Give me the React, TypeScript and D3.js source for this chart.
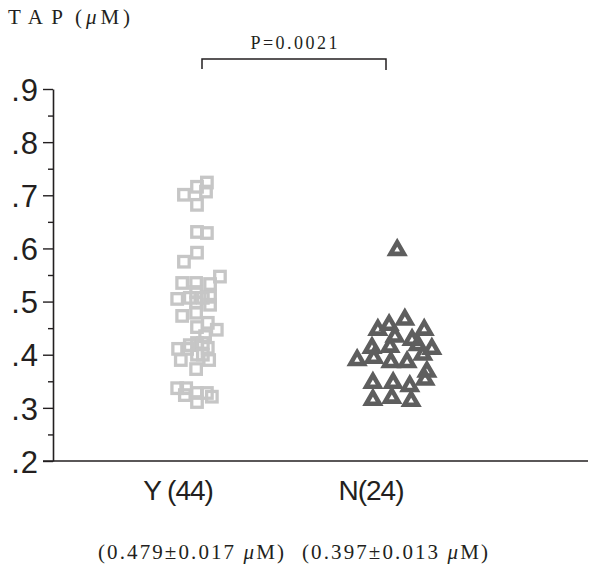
import { useEffect, useRef } from "react";
import * as d3 from "d3";

// groups
const categories = ["Y", "N"];
const categoryLabels = ["Y (44)", "N(24)"];
const summaryLabels = ["(0.479±0.017 μM)", "(0.397±0.013 μM)"];

// TAP values (μM), group Y (squares)
const yValues = [
  0.724, 0.707, 0.716, 0.701, 0.682, 0.631, 0.629, 0.592, 0.575, 0.547, 0.535,
  0.535, 0.533, 0.505, 0.507, 0.518, 0.498, 0.509, 0.494, 0.473, 0.479, 0.46,
  0.452, 0.447, 0.435, 0.411, 0.411, 0.422, 0.413, 0.39, 0.4, 0.39, 0.373,
  0.337, 0.337, 0.328, 0.328, 0.321, 0.311, 0.507, 0.418, 0.422, 0.324, 0.4,
];
// horizontal spread of group Y points, -1..1
const yJitter = [
  0.22, 0.2, 0, -0.29, 0, 0, 0.22, 0, -0.29, 0.51, -0.33, -0.02, 0.29, -0.44,
  -0.16, -0.02, -0.02, 0.29, 0.29, -0.33, -0.02, 0.24, 0, 0.44, 0.18, -0.42,
  -0.22, 0, 0.24, -0.36, 0, 0.27, -0.02, -0.44, -0.24, 0, 0.22, 0.33, 0, 0.13,
  -0.16, 0.13, -0.27, 0.13,
];

// TAP values (μM), group N (triangles)
const nValues = [
  0.597, 0.447, 0.456, 0.466, 0.447, 0.434, 0.428, 0.413, 0.415, 0.418, 0.411,
  0.39, 0.394, 0.386, 0.386, 0.368, 0.347, 0.347, 0.341, 0.353, 0.315, 0.319,
  0.313, 0.4,
];
const nJitter = [
  0.16, -0.27, -0.02, 0.33, 0.76, 0.11, 0.49, -0.4, 0, 0.62, 0.93, -0.73,
  -0.36, 0.02, 0.38, 0.82, -0.38, 0.07, 0.44, 0.78, -0.38, 0.04, 0.47, 0.73,
];

const majorTicks = [0.2, 0.3, 0.4, 0.5, 0.6, 0.7, 0.8, 0.9];
const tickLabels = [".2", ".3", ".4", ".5", ".6", ".7", ".8", ".9"];
const minorTicks = [0.25, 0.35, 0.45, 0.55, 0.65, 0.75, 0.85];
const pLabel = "P=0.0021";
const yTitle = "TAP";
const yUnit = "(μM)";

const W = 603;
const H = 570;
const serif = "'Liberation Serif', 'Times New Roman', serif";

// writes a string into a text node, with μ set in italic
const withMu = (sel: any, s: string) => {
  const parts = s.split("μ");
  parts.forEach((p, i) => {
    if (i > 0) sel.append("tspan").style("font-style", "italic").text("μ");
    if (p) sel.append("tspan").text(p);
  });
};

const Chart = () => {
  const ref = useRef<SVGSVGElement>(null);

  useEffect(() => {
    const svg = d3.select(ref.current);
    svg.selectAll("*").remove();

    const axisX = 53;
    const baseY = 461;
    const y = d3.scaleLinear().domain([0.2, 0.9]).range([baseY, 89]);
    const x = d3.scalePoint().domain(categories).range([197, 390]);
    const jitter = d3.scaleLinear().domain([-1, 1]).range([-45, 45]);
    const ink = "#231f20";

    // y axis, major ticks with labels
    const major = svg
      .append("g")
      .attr("transform", `translate(${axisX},0)`)
      .call(
        d3
          .axisLeft(y)
          .tickValues(majorTicks)
          .tickSize(10)
          .tickSizeOuter(0)
          .tickPadding(4)
          .tickFormat((_, i) => tickLabels[i])
      );
    major.select(".domain").attr("stroke", ink).attr("stroke-width", 1.6);
    major.selectAll(".tick line").attr("stroke", ink).attr("stroke-width", 1.4);
    major
      .selectAll(".tick text")
      .attr("fill", ink)
      .attr("dy", "0.36em")
      .style("font-family", "'Liberation Sans', Arial, sans-serif")
      .style("font-size", "31px")
      .style("letter-spacing", "1px");

    // minor ticks
    const minor = svg
      .append("g")
      .attr("transform", `translate(${axisX},0)`)
      .call(d3.axisLeft(y).tickValues(minorTicks).tickSize(5).tickSizeOuter(0).tickFormat(() => ""));
    minor.select(".domain").remove();
    minor.selectAll(".tick line").attr("stroke", ink).attr("stroke-width", 1.4);

    // x axis line
    svg
      .append("line")
      .attr("x1", axisX - 10)
      .attr("x2", 588)
      .attr("y1", baseY)
      .attr("y2", baseY)
      .attr("stroke", ink)
      .attr("stroke-width", 1.6);

    // title
    const title = svg
      .append("g")
      .attr("fill", ink)
      .style("font-family", serif)
      .style("font-size", "21px");
    title.append("text").attr("x", 8).attr("y", 24).attr("textLength", 55).text(yTitle);
    const unit = title.append("text").attr("x", 75).attr("y", 24).attr("textLength", 55);
    withMu(unit, yUnit);

    // significance bracket
    const bx1 = (x("Y") as number) + 5;
    const bx2 = (x("N") as number) - 4;
    const top = y(0.9) - 30;
    svg
      .append("path")
      .attr("d", `M${bx1},${top + 10}V${top}H${bx2}V${top + 11}`)
      .attr("fill", "none")
      .attr("stroke", ink)
      .attr("stroke-width", 1.5);
    svg
      .append("text")
      .attr("x", (bx1 + bx2) / 2)
      .attr("y", 49)
      .attr("text-anchor", "middle")
      .attr("textLength", 87)
      .attr("fill", ink)
      .style("font-family", serif)
      .style("font-size", "18px")
      .text(pLabel);

    // group Y: hollow squares
    const sq = 10.5;
    svg
      .append("g")
      .selectAll("rect")
      .data(yValues)
      .join("rect")
      .attr("x", (d, i) => (x("Y") as number) + jitter(yJitter[i]) - sq / 2)
      .attr("y", (d) => y(d) - sq / 2)
      .attr("width", sq)
      .attr("height", sq)
      .attr("fill", "none")
      .attr("stroke", "#c6c6c6")
      .attr("stroke-width", 3.3);

    // group N: thick hollow triangles
    const tri = (cx: number, cy: number) => {
      const R = 12.3;
      const r = 3.2;
      const pts = (rad: number) =>
        [-90, 30, 150]
          .map((a) => {
            const t = (a * Math.PI) / 180;
            return `${cx + rad * Math.cos(t)},${cy + rad * Math.sin(t)}`;
          })
          .join("L");
      return `M${pts(R)}ZM${pts(r)}Z`;
    };
    svg
      .append("g")
      .selectAll("path")
      .data(nValues)
      .join("path")
      .attr("d", (d, i) => tri((x("N") as number) + jitter(nJitter[i]), y(d)))
      .attr("fill", "#5e5e5e")
      .attr("fill-rule", "evenodd");

    // category labels
    svg
      .append("g")
      .selectAll("text")
      .data(categories)
      .join("text")
      .attr("x", (d) => (x(d) as number) - 19)
      .attr("y", 500)
      .attr("text-anchor", "middle")
      .attr("fill", ink)
      .style("font-family", "'Liberation Sans', Arial, sans-serif")
      .style("font-size", "28px")
      .style("letter-spacing", "-1px")
      .text((d, i) => categoryLabels[i]);

    // group means
    svg
      .append("g")
      .selectAll("text")
      .data(categories)
      .join("text")
      .attr("x", (d, i) => (x(d) as number) + (i === 0 ? -6 : 5))
      .attr("y", 559)
      .attr("text-anchor", "middle")
      .attr("textLength", 186)
      .attr("fill", ink)
      .style("font-family", serif)
      .style("font-size", "21px")
      .each(function (d, i) {
        withMu(d3.select(this), summaryLabels[i]);
      });
  }, []);

  return (
    <svg
      ref={ref}
      width={W}
      height={H}
      style={{ position: "absolute", left: 0, top: 0, background: "#fff" }}
    />
  );
};

export default function App() {
  return <Chart />;
}
